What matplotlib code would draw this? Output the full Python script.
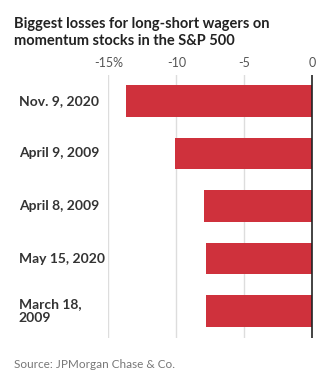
import matplotlib.pyplot as plt

dates = ["Nov. 9, 2020", "April 9, 2009", "April 8, 2009", "May 15, 2020", "March 18,\n2009"]
losses = [-13.7, -10.1, -8.0, -7.85, -7.85]
ticks = [-15, -10, -5, 0]
tick_labels = ["-15%", "-10", "-5", "0"]

plt.rcParams['font.family'] = ['Lato', 'DejaVu Sans']

fig = plt.figure(figsize=(3.25, 3.78), dpi=100)
ax = fig.add_axes([0.3338, 0.1071, 0.6308, 0.6958])

y = list(range(len(dates)))
ax.barh(y, losses, height=0.6, color="#cf313c", zorder=2)
ax.set_ylim(len(dates) - 0.5, -0.5)
ax.set_xlim(-15, 0.1)

# value axis on top, light gridlines, dark zero line
ax.set_xticks(ticks)
ax.set_xticklabels(tick_labels, fontsize=9, color="#555555")
ax.xaxis.tick_top()
ax.tick_params(axis='x', length=0, pad=4)
for t in ticks[:-1]:
    ax.axvline(t, color="#dddddd", lw=1, zorder=1)
ax.axvline(0, color="#222222", lw=1.2, zorder=3)

# category labels left-aligned at the figure margin
ax.set_yticks([])
for yi, d in zip(y, dates):
    ax.text(-0.437, yi, d, transform=ax.get_yaxis_transform(), ha='left', va='center',
            fontsize=10, fontweight='bold', color="#333333", linespacing=1.15)

for s in ax.spines.values():
    s.set_visible(False)

fig.text(14 / 325, 1 - 17 / 378, "Biggest losses for long-short wagers on\nmomentum stocks in the S&P 500",
         ha='left', va='top', fontsize=10.5, fontweight='bold', color="#222222", linespacing=1.3)
fig.text(14 / 325, 1 - 364 / 378, "Source: JPMorgan Chase & Co.", ha='left', va='center',
         fontsize=8.5, color="#777777")

fig.savefig("out.png", dpi=100)
